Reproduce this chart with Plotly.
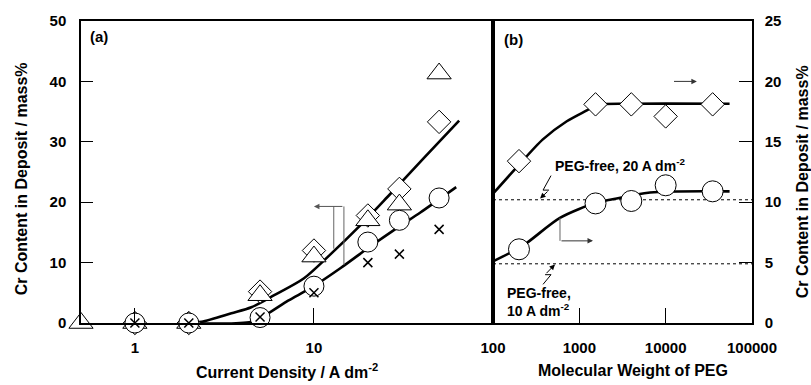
import math
import plotly.graph_objects as go

# ---------------- data: panel (a) ----------------
cd_tri = [0.5, 1, 2, 5, 10, 20, 30, 50]
cr_tri = [0, 0, 0, 4.6, 11.0, 17.0, 19.6, 41.3]
cd_dia = [1, 2, 5, 10, 20, 30, 50]
cr_dia = [0, 0, 5.2, 12.0, 17.8, 22.2, 33.3]
cd_cir = [1, 2, 5, 10, 20, 30, 50]
cr_cir = [0, 0, 0.9, 6.1, 13.4, 17.0, 20.7]
cd_x = [1, 2, 5, 10, 20, 30, 50]
cr_x = [0, 0, 1.0, 5.0, 10.0, 11.4, 15.5]

fit_up_x = [2.0, 2.36, 3.46, 4.47, 6.0, 8.8, 12.4, 18.2, 25.8, 40.8, 64.7]
fit_up_y = [0, 0.2, 1.6, 2.6, 4.6, 7.4, 11.4, 16.2, 20.9, 27.2, 33.5]
fit_lo_x = [2.0, 4.47, 5.55, 7.17, 9.62, 14.1, 20.7, 29.3, 39.3, 62.3]
fit_lo_y = [0, 0.2, 1.6, 3.7, 5.8, 9.1, 12.7, 15.8, 18.3, 22.5]

# ---------------- data: panel (b) ----------------
mw = [200, 1540, 4000, 10000, 35000]
cr_dia_b = [13.4, 18.1, 18.1, 17.1, 18.1]
cr_cir_b = [6.1, 9.9, 10.1, 11.4, 10.9]
fit_dia_x = [100, 189, 378, 716, 1220, 1590, 4000, 55000]
fit_dia_y = [10.7, 12.9, 15.2, 16.7, 17.6, 18.05, 18.15, 18.15]
fit_cir_x = [100, 222, 596, 1550, 2270, 6600, 55000]
fit_cir_y = [5.1, 6.4, 8.7, 9.95, 10.2, 10.8, 10.9]
peg_free_20 = 10.2
peg_free_10 = 4.9
mw_range = [100, 100000]

# tick labels
xa_ticks = [1, 10]
xb_ticks = [100, 1000, 10000, 100000]
ya_ticks = [0, 10, 20, 30, 40, 50]
yb_ticks = [0, 5, 10, 15, 20, 25]

FONT = "Liberation Sans"
BLACK = "black"

fig = go.Figure()

def curve(x, y, xa="x", ya="y"):
    fig.add_trace(go.Scatter(x=x, y=y, mode="lines", xaxis=xa, yaxis=ya,
                             line=dict(color=BLACK, width=2.6, shape="spline", smoothing=0.8),
                             hoverinfo="skip", showlegend=False))

def marks(x, y, symbol, size, xa="x", ya="y", fill="white"):
    fig.add_trace(go.Scatter(x=x, y=y, mode="markers", xaxis=xa, yaxis=ya, cliponaxis=False,
                             marker=dict(symbol=symbol, size=size, color=fill,
                                         line=dict(color=BLACK, width=1)),
                             showlegend=False))

def thin(x, y, xa="x", ya="y", color="#666", dash="solid"):
    fig.add_trace(go.Scatter(x=x, y=y, mode="lines", xaxis=xa, yaxis=ya,
                             line=dict(color=color, width=1, dash=dash),
                             hoverinfo="skip", showlegend=False))

# panel (a)
curve(fit_up_x, fit_up_y)
curve(fit_lo_x, fit_lo_y)
marks(cd_dia, cr_dia, "diamond", 18)
marks(cd_tri, cr_tri, "triangle-up", 21)
marks(cd_cir, cr_cir, "circle", 20)
fig.add_trace(go.Scatter(x=cd_x, y=cr_x, mode="markers", cliponaxis=False,
                         marker=dict(symbol="x-thin", size=9, line=dict(color=BLACK, width=1.5)),
                         showlegend=False))
# bracket arrow in (a)
thin([12.9, 12.9], [19.3, 12.3])
thin([14.7, 14.7], [19.3, 9.6])

# panel (b)
thin(mw_range, [peg_free_20, peg_free_20], "x2", "y2", BLACK, "dot")
thin(mw_range, [peg_free_10, peg_free_10], "x2", "y2", BLACK, "dot")
curve(fit_dia_x, fit_dia_y, "x2", "y2")
curve(fit_cir_x, fit_cir_y, "x2", "y2")
marks(mw, cr_dia_b, "diamond", 18, "x2", "y2")
marks(mw, cr_cir_b, "circle", 21, "x2", "y2")
thin([597, 597], [8.7, 6.8], "x2", "y2")
# zigzag pointers
thin([470, 380, 446], [12.2, 11.0, 11.0], "x2", "y2", BLACK)
thin([380, 470, 401], [3.2, 4.0, 4.0], "x2", "y2", BLACK)

L = math.log10
annos = []
def arrow(x_tip, y_tip, x_tail, y_tail, xr, yr, color=BLACK):
    annos.append(dict(x=L(x_tip), y=y_tip, ax=L(x_tail), ay=y_tail, xref=xr, yref=yr,
                      axref=xr, ayref=yr, text="", showarrow=True, arrowhead=2,
                      arrowsize=1.1, arrowwidth=1, arrowcolor=color, standoff=0))

arrow(10.0, 19.3, 14.7, 19.3, "x", "y", "#555")
arrow(1440, 6.8, 597, 6.8, "x2", "y2", "#333")
arrow(23000, 20.0, 12000, 20.0, "x2", "y2", "#333")
arrow(351, 10.3, 446, 11.0, "x2", "y2")
arrow(522, 4.85, 401, 4.0, "x2", "y2")

def ppx(px):
    return (px - 81) / 671.0

def ppy(py):
    return (323 - py) / 309.0

def text(px, py, s, size=14, xanchor="left", angle=0, align="left"):
    annos.append(dict(x=ppx(px), y=ppy(py), xref="paper", yref="paper", text=s,
                      showarrow=False, xanchor=xanchor, yanchor="middle", textangle=angle,
                      align=align, font=dict(family=FONT, size=size, color=BLACK, weight="bold")))

text(88, 30, "(a)", 15)
text(502, 33, "(b)", 15)
text(553, 161, "PEG-free, 20 A dm<sup>-2</sup>", 14)
text(505, 302, "PEG-free,<br>10 A dm<sup>-2</sup>", 14)
text(287, 372, "Current Density / A dm<sup>-2</sup>", 16, "center")
text(633, 372, "Molecular Weight of PEG", 16, "center")
text(21, 176, "Cr Content in Deposit / mass%", 16, "center", -90)
text(802, 178, "Cr Content in Deposit / mass%", 16, "center", -90)

split = 412 / 671.0
tickfont = dict(family=FONT, size=15, color=BLACK, weight="bold")
common = dict(showline=True, linecolor=BLACK, linewidth=1.5, mirror=True, showgrid=False,
              zeroline=False, ticks="inside", tickcolor=BLACK, tickwidth=1, tickfont=tickfont)

fig.update_layout(
    width=811, height=385, margin=dict(l=81, r=59, t=14, b=62, pad=0),
    paper_bgcolor="white", plot_bgcolor="white", showlegend=False,
    font=dict(family=FONT, color=BLACK),
    xaxis=dict(type="log", range=[L(0.5), 2], domain=[0, split], anchor="y",
               tickvals=xa_ticks, ticktext=[str(v) for v in xa_ticks], ticklen=15,
               ticklabelstandoff=10, **common),
    yaxis=dict(range=[0, 50], anchor="x", tickvals=ya_ticks, ticklen=12,
               ticklabelstandoff=10, **common),
    xaxis2=dict(type="log", range=[2, 5], domain=[split, 1], anchor="y2",
                tickvals=xb_ticks, ticktext=[str(v) for v in xb_ticks], ticklen=15,
                ticklabelstandoff=10, **common),
    yaxis2=dict(range=[0, 25], anchor="x2", side="right", tickvals=yb_ticks, ticklen=13,
                ticklabelstandoff=8, **common),
    annotations=annos,
)

fig.write_html("out.html")
